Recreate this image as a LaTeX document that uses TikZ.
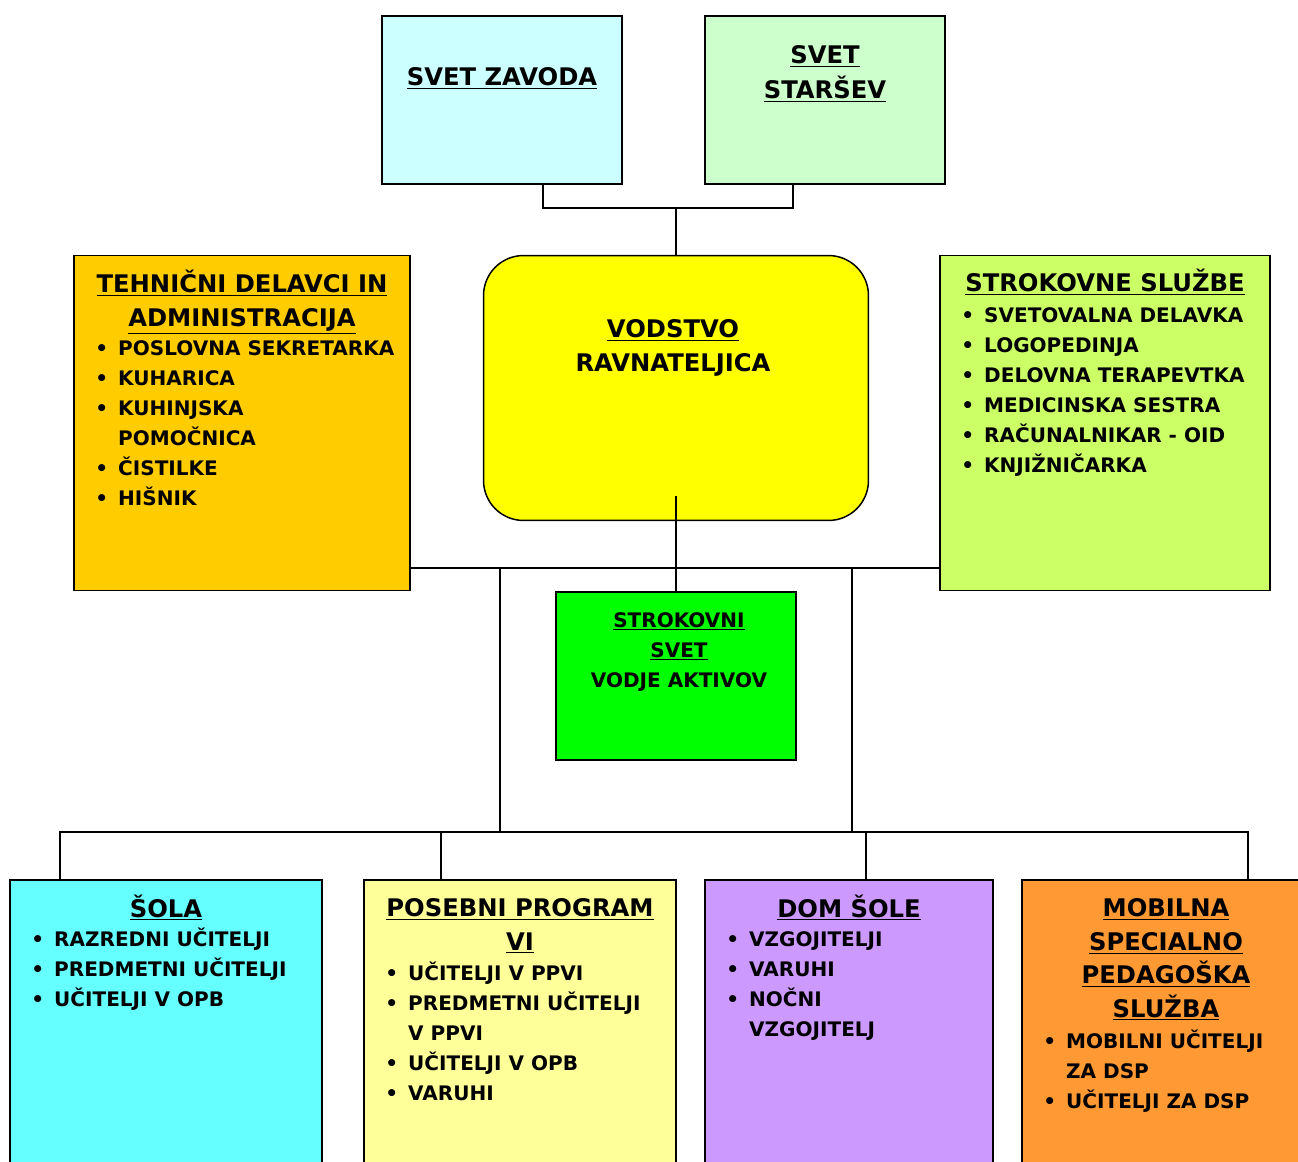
\documentclass[tikz,border=0pt]{standalone}
\usepackage{fontspec}
\setmainfont{DejaVu Sans}
\usetikzlibrary{positioning, calc}
\definecolor{zavodcyan}{HTML}{CCFFFF}
\definecolor{parentgreen}{HTML}{CCFFCC}
\definecolor{leadyellow}{HTML}{FFFF00}
\definecolor{techorange}{HTML}{FFCC00}
\definecolor{profgreen}{HTML}{CCFF66}
\definecolor{councilgreen}{HTML}{00FF00}
\definecolor{schoolcyan}{HTML}{66FFFF}
\definecolor{progyellow}{HTML}{FFFF99}
\definecolor{dormviolet}{HTML}{CC99FF}
\definecolor{mobileorange}{HTML}{FF9933}
\newcommand\bul{\makebox[13pt][l]{\textbullet}}
\newcommand\indnt{\hspace*{13pt}}

\begin{document}
\begin{tikzpicture}[x=0.02cm, y=-0.02cm,
  box/.style={draw=black, line width=0.85pt, inner sep=0pt},
  title/.style={font=\bfseries\fontsize{13.8}{19}\selectfont, align=center, inner sep=0pt},
  items/.style={font=\bfseries\fontsize{11.4}{17.07}\selectfont, align=left, inner sep=0pt},
  wire/.style={line width=0.85pt}]
  \path[use as bounding box] (0,0) rectangle (1298,1162);
  \clip (0,0) rectangle (1298,1162);

  % Councils
  \node[box, fill=zavodcyan, minimum width=4.8cm, minimum height=3.36cm] (zavod) at (502,100) {};
  \node[box, fill=parentgreen, minimum width=4.8cm, minimum height=3.36cm] (starsi) at (825,100) {};
  \node[title, anchor=base] (zavodT) at (502,86) {\underline{SVET ZAVODA}};
  \node[title, anchor=base] (starsiT) at (825,99) {\underline{SVET}\\[1pt]\underline{STARŠEV}};

  % Leadership
  \node[box, fill=leadyellow, rounded corners=0.8cm, minimum width=7.7cm, minimum height=5.3cm] (vodstvo) at (676,388) {};
  \node[title, anchor=base] (vodstvoT) at (673,371) {\underline{VODSTVO}\\RAVNATELJICA};

  % Technical staff
  \node[box, fill=techorange, minimum width=6.72cm, minimum height=6.7cm] (tehnicni) at (242,423) {};
  \node[title, anchor=base] (tehnicniT) at (242,326) {\underline{TEHNIČNI DELAVCI IN}\\\underline{ADMINISTRACIJA}};
  \node[items, anchor=base west] (tehnicniL) at (95,505) {\bul POSLOVNA SEKRETARKA\\\bul KUHARICA\\\bul KUHINJSKA\\\indnt POMOČNICA\\\bul ČISTILKE\\\bul HIŠNIK};

  % Professional services
  \node[box, fill=profgreen, minimum width=6.6cm, minimum height=6.7cm] (sluzbe) at (1105,423) {};
  \node[title, anchor=base] (sluzbeT) at (1105,292) {\underline{STROKOVNE SLUŽBE}};
  \node[items, anchor=base west] (sluzbeL) at (961,472) {\bul SVETOVALNA DELAVKA\\\bul LOGOPEDINJA\\\bul DELOVNA TERAPEVTKA\\\bul MEDICINSKA SESTRA\\\bul RAČUNALNIKAR - OID\\\bul KNJIŽNIČARKA};

  % Professional council
  \node[box, fill=councilgreen, minimum width=4.8cm, minimum height=3.36cm] (svet) at (676,676) {};
  \node[items, align=center, anchor=base] (svetT) at (679,687) {\underline{STROKOVNI}\\\underline{SVET}\\VODJE AKTIVOV};

  % Units
  \node[box, fill=schoolcyan, minimum width=6.24cm, minimum height=6.4cm] (sola) at (166,1040) {};
  \node[title, anchor=base] (solaT) at (166,917) {\underline{ŠOLA}};
  \node[items, anchor=base west] (solaL) at (31,1006) {\bul RAZREDNI UČITELJI\\\bul PREDMETNI UČITELJI\\\bul UČITELJI V OPB};

  \node[box, fill=progyellow, minimum width=6.24cm, minimum height=6.4cm] (posebni) at (520,1040) {};
  \node[title, anchor=base] (posebniT) at (520,950) {\underline{POSEBNI PROGRAM}\\\underline{VI}};
  \node[items, anchor=base west] (posebniL) at (385,1100) {\bul UČITELJI V PPVI\\\bul PREDMETNI UČITELJI\\\indnt V PPVI\\\bul UČITELJI V OPB\\\bul VARUHI};

  \node[box, fill=dormviolet, minimum width=5.76cm, minimum height=6.4cm] (dom) at (849,1040) {};
  \node[title, anchor=base] (domT) at (849,917) {\underline{DOM ŠOLE}};
  \node[items, anchor=base west] (domL) at (726,1036) {\bul VZGOJITELJI\\\bul VARUHI\\\bul NOČNI\\\indnt VZGOJITELJ};

  \node[box, fill=mobileorange, minimum width=5.76cm, minimum height=6.4cm] (mobilna) at (1166,1040) {};
  \node[title, anchor=base] (mobilnaT) at (1166,1017) {\underline{MOBILNA}\\\underline{SPECIALNO}\\\underline{PEDAGOŠKA}\\\underline{SLUŽBA}};
  \node[items, anchor=base west] (mobilnaL) at (1043,1108) {\bul MOBILNI UČITELJI\\\indnt ZA DSP\\\bul UČITELJI ZA DSP};

  % Connectors
  \coordinate (topbus) at (676,208);
  \coordinate (midbus) at (676,568);
  \coordinate (lowbus) at (676,832);
  \coordinate (jl) at (500,568);
  \coordinate (jr) at (852,568);
  \draw[wire] ([xshift=0.82cm]zavod.south) |- (topbus) -| ([xshift=-0.64cm]starsi.south);
  \draw[wire] (topbus) -- (vodstvo.north);
  \draw[wire] ([yshift=0.5cm]vodstvo.south) -- (svet.north);
  \draw[wire] (midbus -| tehnicni.east) -- (midbus -| sluzbe.west);
  \draw[wire] (jl) -- (jl |- lowbus);
  \draw[wire] (jr) -- (jr |- lowbus);
  \draw[wire] ([xshift=-2.12cm]sola.north) |- (lowbus) -| ([xshift=1.64cm]mobilna.north);
  \draw[wire] ([xshift=-1.58cm]posebni.north) -- ([xshift=-1.58cm]posebni.north |- lowbus);
  \draw[wire] ([xshift=0.34cm]dom.north) -- ([xshift=0.34cm]dom.north |- lowbus);
\end{tikzpicture}
\end{document}
